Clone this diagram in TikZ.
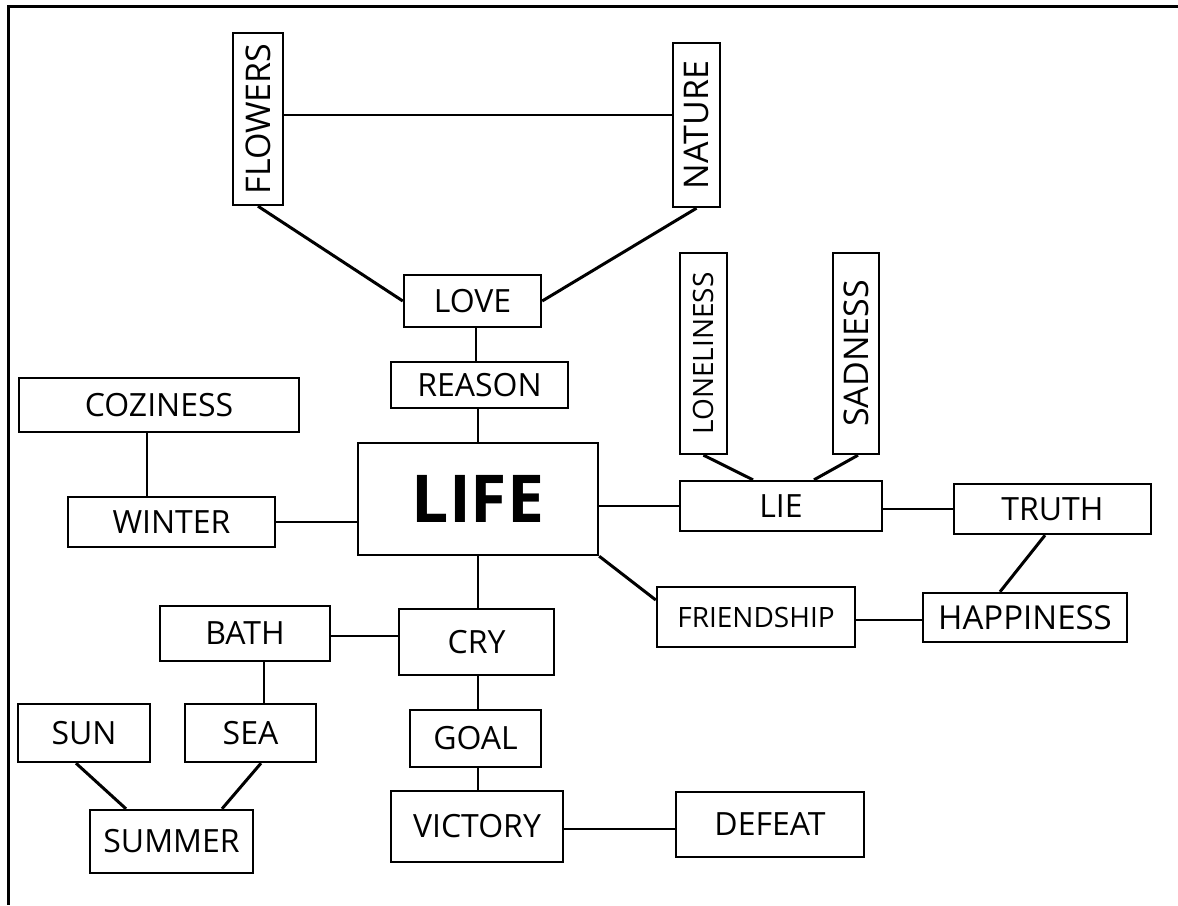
\documentclass[tikz,border=0pt]{standalone}
\usepackage{fontspec}
\setmainfont{Open Sans}
\usepackage{graphicx}
\begin{document}
\begin{tikzpicture}[x=1pt,y=-1pt,
  box/.style={draw, line width=2.4pt, inner sep=0pt, font=\fontsize{32}{38}\selectfont},
  vbox/.style={box, font=\fontsize{34}{40}\selectfont},
  sz/.style 2 args={minimum width=#1pt, minimum height=#2pt},
  conn/.style={line width=2pt},
  diag/.style={line width=3pt},
  frame/.style={line width=3pt}]
\useasboundingbox (0,0) rectangle (1178,905);
% frame
\coordinate (fr1) at (1178,6);
\coordinate (fr2) at (8,6);
\coordinate (fr3) at (8,905);
\draw[frame] (fr1) -- (fr2) -- (fr3);
% nodes
\node[vbox, sz={50}{172}] (flowers) at (258,119) {\rotatebox{90}{FLOWERS}};
\node[vbox, sz={47}{164}] (nature) at (696.5,125) {\rotatebox{90}{NATURE}};
\node[box, sz={137}{52}] (love) at (472.5,301) {LOVE};
\node[box, sz={177}{46}] (reason) at (479.5,385) {REASON};
\node[box, sz={240}{112}, font=\fontsize{66}{76}\selectfont\bfseries] (life) at (478,499) {LIFE};
\node[box, sz={280}{54}] (coziness) at (159,405) {COZINESS};
\node[box, sz={207}{50}] (winter) at (171.5,522) {WINTER};
\node[box, sz={47}{201}, font=\fontsize{28}{34}\selectfont] (loneliness) at (703.5,353.5) {\rotatebox{90}{LONELINESS}};
\node[vbox, sz={46}{201}] (sadness) at (856,353.5) {\rotatebox{90}{SADNESS}};
\node[box, sz={202}{50}] (lie) at (781,506) {LIE};
\node[box, sz={197}{50}] (truth) at (1052.5,509) {TRUTH};
\node[box, sz={204}{49}, font=\fontsize{33}{39}\selectfont] (happiness) at (1025,617.5) {HAPPINESS};
\node[box, sz={198}{60}, font=\fontsize{28}{34}\selectfont] (friendship) at (756,617) {FRIENDSHIP};
\node[box, sz={155}{66}] (cry) at (476.5,642) {CRY};
\node[box, sz={170}{55}] (bath) at (245,633.5) {BATH};
\node[box, sz={131}{58}] (sea) at (250.5,733) {SEA};
\node[box, sz={132}{58}] (sun) at (84,733) {SUN};
\node[box, sz={163}{63}] (summer) at (171.5,841.5) {SUMMER};
\node[box, sz={131}{57}] (goal) at (475.5,738.5) {GOAL};
\node[box, sz={172}{71}] (victory) at (477,826.5) {VICTORY};
\node[box, sz={188}{65}] (defeat) at (770,824.5) {DEFEAT};
% orthogonal connectors
\draw[conn] ([yshift=4pt]flowers.east) -- ([yshift=4pt]flowers.east -| nature.west);
\draw[conn] ([xshift=3.5pt]love.south) -- ([xshift=3.5pt]love.south |- reason.north);
\draw[conn] (life.north) -- (life.north |- reason.south);
\draw[conn] (winter.east) -- (winter.east -| life.west);
\draw[conn] ([xshift=-24.5pt]winter.north) -- ([xshift=-24.5pt]winter.north |- coziness.south);
\draw[conn] (lie.west -| life.east) -- (lie.west);
\draw[conn] (truth.west -| lie.east) -- (truth.west);
\draw[conn] (life.south) -- (life.south |- cry.north);
\draw[conn] (cry.south -| life.south) -- (goal.north -| life.south);
\draw[conn] (goal.south -| life.south) -- (victory.north -| life.south);
\draw[conn] ([yshift=-2pt]victory.east) -- ([yshift=-2pt]victory.east -| defeat.west);
\draw[conn] ([yshift=-2.5pt]bath.east) -- ([yshift=-2.5pt]bath.east -| cry.west);
\draw[conn] ([xshift=19pt]bath.south) -- ([xshift=19pt]bath.south |- sea.north);
\draw[conn] ([yshift=-3pt]friendship.east) -- ([yshift=-3pt]friendship.east -| happiness.west);
% diagonal connectors
\draw[diag] (flowers.south) -- (love.west);
\draw[diag] (nature.south) -- (love.east);
\draw[diag] (loneliness.south) -- ([xshift=-28pt]lie.north);
\draw[diag] ([xshift=2pt]sadness.south) -- ([xshift=33pt]lie.north);
\draw[diag] ([xshift=-7.5pt]truth.south) -- ([xshift=-25pt]happiness.north);
\draw[diag] (life.south east) -- ([yshift=17pt]friendship.west);
\draw[diag] ([xshift=-8pt]sun.south) -- ([xshift=-45.5pt]summer.north);
\draw[diag] ([xshift=10.5pt]sea.south) -- ([xshift=50.5pt]summer.north);
\end{tikzpicture}
\end{document}
